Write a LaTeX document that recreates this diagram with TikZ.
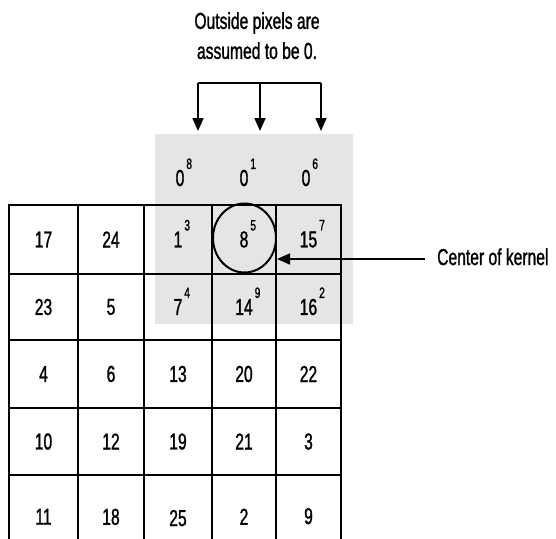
\documentclass[tikz,border=0pt]{standalone}
\usepackage{fontspec}
\setmainfont[FakeStretch=0.68,FakeBold=1.2]{Liberation Sans}
\usetikzlibrary{arrows.meta,shapes.geometric}
\newcommand{\pw}[2]{#1\rlap{\kern2pt\smash{\raisebox{17pt}{\fontsize{15}{15}\selectfont #2}}}}
\tikzset{
  cell/.style={draw, line width=1.5pt, inner sep=0pt, anchor=center},
  cA/.style={minimum width=69pt},
  cB/.style={minimum width=66pt},
  cC/.style={minimum width=68pt},
  cD/.style={minimum width=64pt},
  cE/.style={minimum width=65pt},
  rA/.style={minimum height=69pt},
  rB/.style={minimum height=66pt},
  rC/.style={minimum height=68pt},
  rD/.style={minimum height=67pt},
  rE/.style={minimum height=100pt},
  arr/.style={line width=1.6pt, -{Triangle[length=13pt,width=11pt]}},
  lab/.style={inner sep=0pt}
}
\begin{document}
\begin{tikzpicture}[x=1pt,y=-1pt,font=\fontsize{23}{30}\selectfont]
\useasboundingbox (0,0) rectangle (556,538);
\clip (0,0) rectangle (556,538);
% gray padding region
\node[fill=black!10, draw=none, minimum width=198pt, minimum height=190pt, inner sep=0pt] (pad) at (254,229) {};
% top padding row
\node[lab] (z1) at (180,178) {\pw{0}{8}};
\node[lab] (z2) at (244,178) {\pw{0}{1}};
\node[lab] (z3) at (306,178) {\pw{0}{6}};
% grid row 1
\node[cell,cA,rA] (c11) at (43.5,239.5) {17};
\node[cell,cB,rA] (c12) at (111,239.5) {24};
\node[cell,cC,rA] (c13) at (178,239.5) {\pw{1}{3}};
\node[cell,cD,rA] (c14) at (244,239.5) {\pw{8}{5}};
\node[cell,cE,rA] (c15) at (308.5,239.5) {\pw{15}{7}};
% row 2
\node[cell,cA,rB] (c21) at (43.5,307) {23};
\node[cell,cB,rB] (c22) at (111,307) {5};
\node[cell,cC,rB] (c23) at (178,307) {\pw{7}{4}};
\node[cell,cD,rB] (c24) at (244,307) {\pw{14}{9}};
\node[cell,cE,rB] (c25) at (308.5,307) {\pw{16}{2}};
% row 3
\node[cell,cA,rC] (c31) at (43.5,374) {4};
\node[cell,cB,rC] (c32) at (111,374) {6};
\node[cell,cC,rC] (c33) at (178,374) {13};
\node[cell,cD,rC] (c34) at (244,374) {20};
\node[cell,cE,rC] (c35) at (308.5,374) {22};
% row 4
\node[cell,cA,rD] (c41) at (43.5,441.5) {10};
\node[cell,cB,rD] (c42) at (111,441.5) {12};
\node[cell,cC,rD] (c43) at (178,441.5) {19};
\node[cell,cD,rD] (c44) at (244,441.5) {21};
\node[cell,cE,rD] (c45) at (308.5,441.5) {3};
% row 5 (cut off at the bottom)
\node[cell,cA,rE] (c51) at (43.5,525) {\raisebox{16.5pt}{11}};
\node[cell,cB,rE] (c52) at (111,525) {\raisebox{16.5pt}{18}};
\node[cell,cC,rE] (c53) at (178,525) {\raisebox{14pt}{25}};
\node[cell,cD,rE] (c54) at (244,525) {\raisebox{16.5pt}{2}};
\node[cell,cE,rE] (c55) at (308.5,525) {\raisebox{18pt}{9}};
% kernel center circle
\node[draw, ellipse, line width=2pt, minimum width=63pt, minimum height=69pt, inner sep=0pt] (ctr) at (244.5,238) {};
% label: outside pixels
\node[lab, align=center, anchor=north] (out) at (257,12) {Outside pixels are\\assumed to be 0.};
\coordinate (b1) at (198,83);
\coordinate (b2) at (260,83);
\coordinate (b3) at (321,83);
\coordinate (t1) at (198,131);
\coordinate (t2) at (260,131);
\coordinate (t3) at (321,131);
\draw[line width=1.6pt] (b1) -- (b3);
\draw[arr] (b1) -- (t1);
\draw[arr] (b2) -- (t2);
\draw[arr] (b3) -- (t3);
% label: center of kernel
\node[lab, anchor=base west] (ck) at (437,265) {Center of kernel};
\coordinate (k) at (425,259);
\draw[arr] (k) -- (ctr.east |- k);
\end{tikzpicture}
\end{document}
